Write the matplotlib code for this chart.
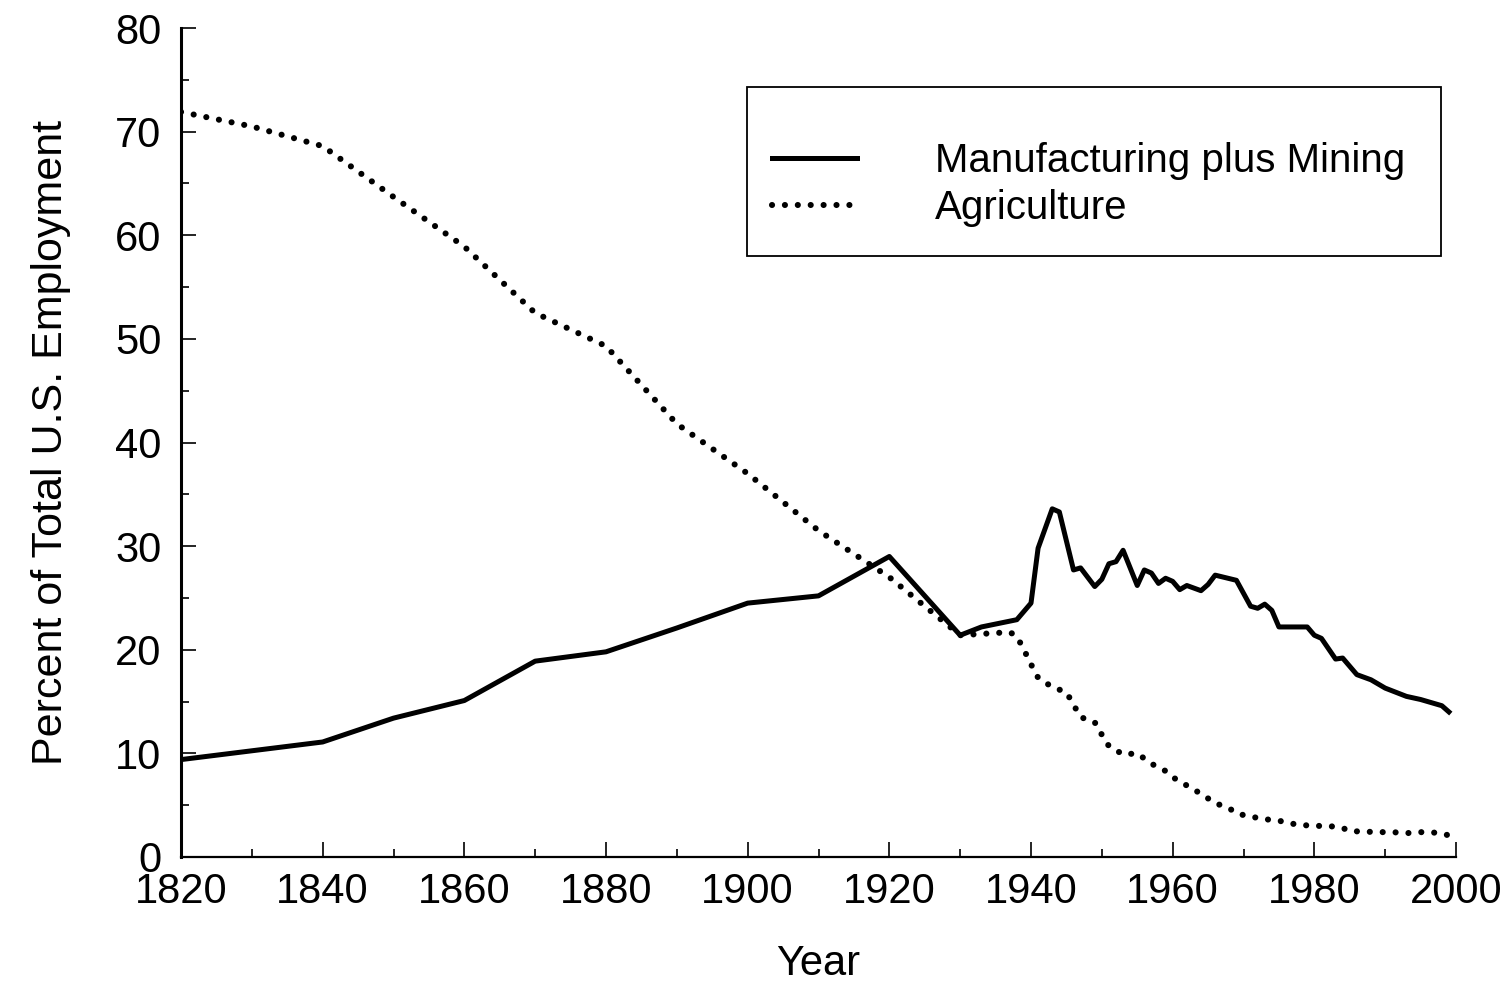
import matplotlib.pyplot as plt
from matplotlib.patches import Rectangle
from matplotlib.ticker import MultipleLocator

plt.rcParams['font.family'] = ['Liberation Sans', 'DejaVu Sans']

# Manufacturing plus Mining, percent of total US employment
mfg_years = [1820, 1840, 1850, 1860, 1870, 1880, 1890, 1900, 1910, 1920,
             1930, 1933, 1938, 1940, 1941, 1943, 1944, 1946, 1947, 1949,
             1950, 1951, 1952, 1953, 1955, 1956, 1957, 1958, 1959, 1960,
             1961, 1962, 1964, 1965, 1966, 1969, 1971, 1972, 1973, 1974,
             1975, 1979, 1980, 1981, 1983, 1984, 1986, 1988, 1990, 1993,
             1995, 1998, 1999]
mfg_vals = [9.4, 11.1, 13.4, 15.1, 18.9, 19.8, 22.1, 24.5, 25.2, 29.0,
            21.4, 22.2, 22.9, 24.5, 29.8, 33.6, 33.3, 27.7, 27.9, 26.1,
            26.8, 28.3, 28.5, 29.6, 26.2, 27.7, 27.4, 26.4, 26.9, 26.6,
            25.8, 26.2, 25.7, 26.3, 27.2, 26.7, 24.2, 24.0, 24.4, 23.8,
            22.2, 22.2, 21.4, 21.1, 19.1, 19.2, 17.6, 17.1, 16.3, 15.5,
            15.2, 14.6, 14.0]

# Agriculture, percent of total US employment
agr_years = [1820, 1830, 1840, 1850, 1860, 1870, 1880, 1890, 1900, 1910,
             1920, 1930, 1937, 1938, 1939, 1940, 1941, 1943, 1945, 1946,
             1947, 1949, 1950, 1951, 1953, 1955, 1957, 1959, 1960, 1962,
             1964, 1966, 1968, 1969, 1971, 1973, 1975, 1977, 1978, 1980,
             1982, 1984, 1985, 1987, 1989, 1991, 1993, 1995, 1997, 1999]
agr_vals = [71.9, 70.5, 68.6, 63.7, 58.9, 52.5, 49.3, 41.8, 37.0, 31.5,
            27.0, 21.4, 21.7, 21.3, 20.0, 18.6, 17.3, 16.4, 15.9, 14.7,
            13.5, 13.0, 11.8, 10.7, 9.9, 10.0, 9.0, 8.3, 7.7, 6.9,
            6.1, 5.2, 4.7, 4.2, 3.9, 3.65, 3.5, 3.2, 3.1, 3.0,
            3.0, 2.8, 2.5, 2.45, 2.4, 2.4, 2.3, 2.4, 2.35, 2.1]

W, H = 1512, 985
fig = plt.figure(figsize=(W / 100, H / 100), dpi=100)
ax = fig.add_axes([181 / W, 1 - 857 / H, (1456 - 181) / W, (857 - 28) / H])

ax.plot(mfg_years, mfg_vals, color='black', lw=3.6, solid_joinstyle='round',
        label='Manufacturing plus Mining')
ax.plot(agr_years, agr_vals, color='black', lw=4.4, dash_capstyle='round',
        linestyle=(0, (0.01, 2.1)), label='Agriculture')

ax.set_xlim(1820, 2000)
ax.set_ylim(0, 80)
ax.xaxis.set_major_locator(MultipleLocator(20))
ax.xaxis.set_minor_locator(MultipleLocator(10))
ax.yaxis.set_major_locator(MultipleLocator(10))
ax.yaxis.set_minor_locator(MultipleLocator(5))

for s in ['top', 'right']:
    ax.spines[s].set_visible(False)
ax.spines['left'].set_linewidth(2.2)
ax.spines['bottom'].set_linewidth(1.6)

ax.tick_params(which='major', direction='in', length=11, width=1.2,
               labelsize=30)
ax.tick_params(which='minor', direction='in', length=6, width=1.2)
ax.tick_params(axis='x', which='major', pad=11)
ax.tick_params(axis='y', which='major', pad=14)

ax.set_xlabel('Year', fontsize=30, labelpad=23)
ax.set_ylabel('Percent of Total U.S. Employment', fontsize=31, labelpad=32)

# legend box
fig.patches.append(Rectangle((747 / W, 1 - 256 / H), (1441 - 747) / W,
                             (256 - 87) / H, transform=fig.transFigure,
                             fill=False, edgecolor='black', lw=1.3))
ax.legend(loc='upper left', bbox_to_anchor=(772 / W, 1 - 142 / H),
          bbox_transform=fig.transFigure, frameon=False, fontsize=29,
          handlelength=2.1, handletextpad=1.95, labelspacing=0.22,
          borderpad=0, borderaxespad=0)

fig.savefig('out.png', dpi=100)
